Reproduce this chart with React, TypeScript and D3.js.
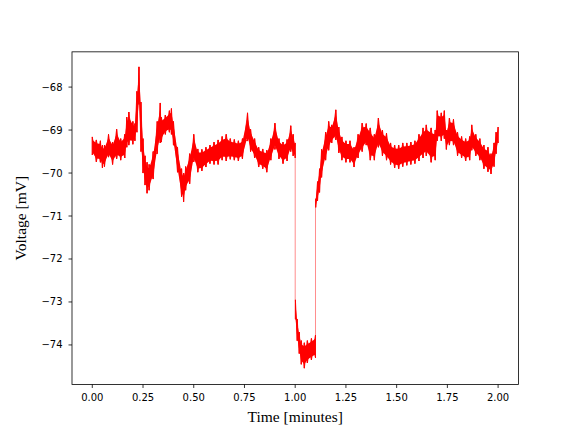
import React from "react";
import * as d3 from "d3";

// Recording trace (upper / lower edge of the noisy trace)
const time = [
  0.0, 0.02, 0.04, 0.05, 0.06, 0.08, 0.1, 0.12, 0.14, 0.16, 0.17, 0.18, 0.2, 0.21, 0.22, 0.23, 0.24, 0.25,
  0.26, 0.27, 0.28, 0.3, 0.32, 0.335, 0.34, 0.36, 0.38, 0.39, 0.4, 0.42, 0.44, 0.45, 0.46, 0.48, 0.5,
  0.52, 0.54, 0.56, 0.58, 0.6, 0.62, 0.64, 0.66, 0.68, 0.7, 0.72, 0.74, 0.765, 0.78, 0.8, 0.82, 0.84,
  0.86, 0.88, 0.9, 0.92, 0.94, 0.96, 0.978, 0.99, 1.0,
  1.001, 1.01, 1.02, 1.03, 1.045, 1.06, 1.08, 1.1,
  1.101, 1.11, 1.12, 1.13, 1.15, 1.165, 1.18, 1.2, 1.215, 1.23, 1.25, 1.27, 1.29, 1.31, 1.33, 1.35,
  1.37, 1.39, 1.41, 1.43, 1.45, 1.47, 1.49, 1.51, 1.53, 1.55, 1.57, 1.59, 1.61, 1.63, 1.646, 1.67,
  1.69, 1.7, 1.72, 1.735, 1.745, 1.76, 1.78, 1.8, 1.82, 1.84, 1.86, 1.87, 1.89, 1.91, 1.93, 1.95,
  1.965, 1.98, 1.99, 2.0,
];
const vHigh = [
  -69.16, -69.23, -69.25, -69.35, -69.35, -69.1, -69.28, -68.98, -69.2, -69.1, -68.7, -68.58, -68.8, -68.85, -68.1, -67.53, -68.35, -69.2,
  -69.6, -69.75, -69.8, -69.5, -68.8, -68.37, -68.7, -68.65, -68.55, -68.5, -68.8, -69.4, -69.9, -70.0, -69.85, -69.55, -69.1,
  -69.44, -69.45, -69.4, -69.35, -69.28, -69.23, -69.15, -69.1, -69.2, -69.22, -69.25, -69.2, -68.6, -68.98, -69.2, -69.4, -69.44,
  -69.47, -69.2, -68.84, -69.2, -69.28, -69.22, -68.9, -69.1, -69.3,
  -72.95, -73.4, -73.7, -73.9, -73.95, -73.9, -73.85, -73.77,
  -70.6, -70.2, -69.9, -69.45, -69.05, -68.8, -68.88, -68.53, -68.93, -69.16, -69.25, -69.25, -69.4, -69.1, -68.84, -68.85,
  -68.95, -69.1, -68.72, -69.0, -69.07, -69.3, -69.35, -69.35, -69.3, -69.3, -69.28, -69.25, -69.1, -68.95, -68.88, -68.95,
  -69.0, -68.55, -68.6, -68.55, -69.0, -68.72, -68.75, -69.05, -69.15, -69.2, -69.15, -68.88, -69.1, -69.2, -69.35, -69.4,
  -69.55, -69.3, -69.05, -68.93,
];
const vLow = [
  -69.58, -69.74, -69.75, -69.88, -69.85, -69.63, -69.8, -69.67, -69.7, -69.65, -69.4, -69.35, -69.33, -69.25, -69.05, -68.4, -69.5, -70.0,
  -70.28, -70.47, -70.4, -70.14, -69.55, -69.3, -69.28, -69.1, -69.05, -69.1, -69.35, -69.98, -70.55, -70.67, -70.4, -70.25, -69.74,
  -69.98, -69.95, -69.86, -69.78, -69.8, -69.8, -69.7, -69.72, -69.68, -69.7, -69.72, -69.67, -69.25, -69.5, -69.65, -69.86, -69.9,
  -69.98, -69.7, -69.45, -69.67, -69.78, -69.72, -69.5, -69.6, -69.65,
  -73.4, -73.9, -74.2, -74.45, -74.54, -74.42, -74.35, -74.3,
  -70.8, -70.65, -70.45, -70.1, -69.7, -69.47, -69.3, -69.23, -69.53, -69.7, -69.75, -69.75, -69.86, -69.65, -69.5, -69.35,
  -69.7, -69.7, -69.4, -69.6, -69.7, -69.8, -69.88, -69.9, -69.85, -69.82, -69.8, -69.78, -69.72, -69.65, -69.6, -69.75,
  -69.7, -69.25, -69.25, -69.2, -69.45, -69.35, -69.35, -69.6, -69.65, -69.72, -69.7, -69.47, -69.6, -69.7, -69.9, -69.97,
  -70.02, -69.85, -69.55, -69.3,
];
const jumpTimes = [1.0, 1.1];

const xTicks = [0, 0.25, 0.5, 0.75, 1.0, 1.25, 1.5, 1.75, 2.0];
const yTicks = [-68, -69, -70, -71, -72, -73, -74];

const W = 576;
const H = 432;
const left = 72;
const right = 518.4;
const top = 51.84;
const bottom = 384.48;

type P = { t: number; hi: number; lo: number };

export default function App() {
  const x = d3.scaleLinear().domain([-0.1, 2.1]).range([left, right]);
  const y = d3.scaleLinear().domain([-74.92, -67.18]).range([bottom, top]);

  const pts: P[] = time.map((t, i) => ({ t, hi: vHigh[i], lo: vLow[i] }));
  const segs: P[][] = [[], [], []];
  pts.forEach((p) => {
    const k = jumpTimes.filter((j) => p.t > j + 0.0005).length;
    segs[k].push(p);
  });

  // solid core of the band (inner part of the envelope)
  const core = d3
    .area<P>()
    .x((d) => x(d.t))
    .y0((d) => y(d.lo) - 0.15 * (y(d.lo) - y(d.hi)))
    .y1((d) => y(d.hi) + 0.15 * (y(d.lo) - y(d.hi)));

  // ragged edge: the trace swinging between the envelope's edges
  const zig = (s: P[], first: "hi" | "lo") => {
    const second = first === "hi" ? "lo" : "hi";
    const path = d3.path();
    s.forEach((d, i) => {
      if (i === 0) path.moveTo(x(d.t), y(d[first]));
      else path.lineTo(x(d.t), y(d[first]));
      path.lineTo(x(d.t), y(d[second]));
    });
    return path.toString();
  };

  const jumps = [
    { t: jumpTimes[0], a: segs[0][segs[0].length - 1].lo, b: segs[1][0].hi },
    { t: jumpTimes[1], a: segs[1][segs[1].length - 1].hi, b: segs[2][0].lo },
  ];

  return (
    <svg width={W} height={H} style={{ position: "absolute", left: 0, top: 0, background: "#fff" }}>
      <rect x={0} y={0} width={W} height={H} fill="#fff" />
      <defs>
        <clipPath id="plotclip">
          <rect x={left} y={top} width={right - left} height={bottom - top} />
        </clipPath>
      </defs>
      <g clipPath="url(#plotclip)">
        {segs.map((s, i) => (
          <g key={i}>
            <path d={core(s) || ""} fill="#ff0000" stroke="none" />
            <path d={zig(s, "hi")} fill="none" stroke="#ff0000" strokeWidth={0.9} />
            <path d={zig(s, "lo")} fill="none" stroke="#ff0000" strokeWidth={0.9} />
          </g>
        ))}
        {jumps.map((j, i) => (
          <line key={i} x1={x(j.t)} x2={x(j.t)} y1={y(j.a)} y2={y(j.b)} stroke="#ff0000" strokeOpacity={0.45} strokeWidth={1} />
        ))}
      </g>
      <rect x={left} y={top} width={right - left} height={bottom - top} fill="none" stroke="#000" strokeWidth={0.8} />
      {xTicks.map((t) => (
        <g key={t}>
          <line x1={x(t)} x2={x(t)} y1={bottom} y2={bottom + 3.5} stroke="#000" strokeWidth={0.8} />
          <text x={x(t)} y={bottom + 17} textAnchor="middle" fontFamily="DejaVu Sans" fontSize={10} fill="#000">
            {t.toFixed(2)}
          </text>
        </g>
      ))}
      {yTicks.map((v) => (
        <g key={v}>
          <line x1={left - 3.5} x2={left} y1={y(v)} y2={y(v)} stroke="#000" strokeWidth={0.8} />
          <text x={left - 9.5} y={y(v)} dy="0.35em" textAnchor="end" fontFamily="DejaVu Sans" fontSize={10} fill="#000">
            {"\u2212" + Math.abs(v)}
          </text>
        </g>
      ))}
      <text x={(left + right) / 2} y={422} textAnchor="middle" fontFamily="Liberation Serif" fontSize={15.5} fill="#000">
        Time [minutes]
      </text>
      <text
        transform={`translate(26, ${(top + bottom) / 2}) rotate(-90)`}
        textAnchor="middle"
        fontFamily="Liberation Serif"
        fontSize={15.5}
        fill="#000"
      >
        Voltage [mV]
      </text>
    </svg>
  );
}
